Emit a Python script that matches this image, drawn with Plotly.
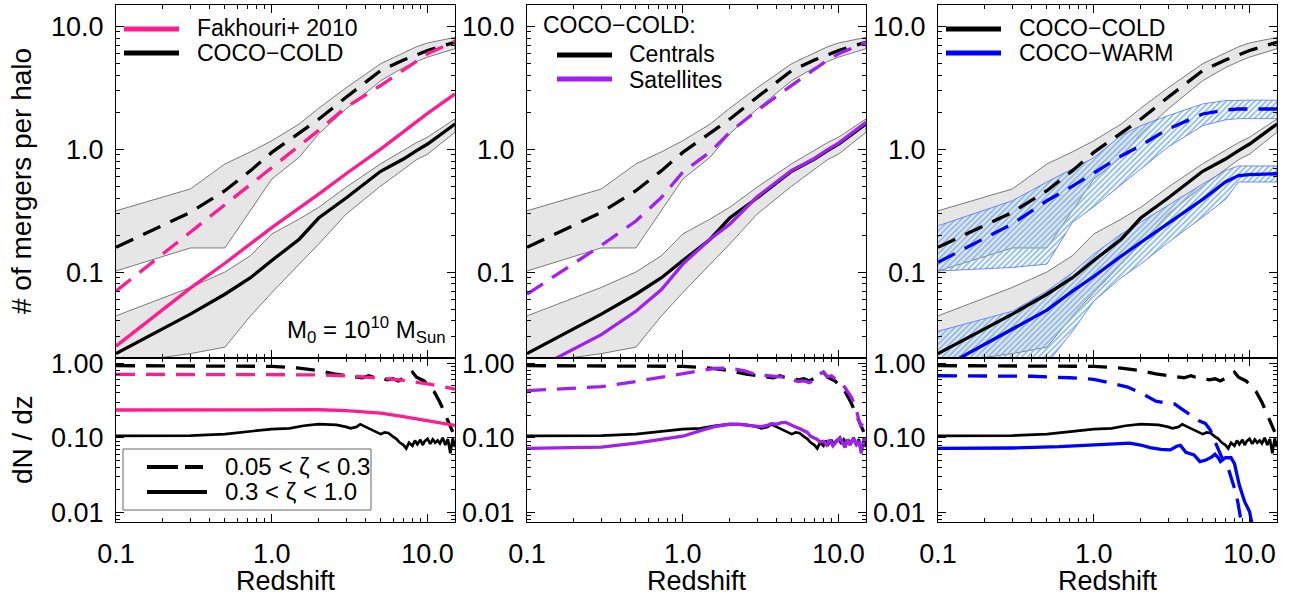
import plotly.graph_objects as go

FONT = "Liberation Sans"
W, H = 1293, 596

PINK = "#ff1c8e"
PURPLE = "#a020f0"
BLUE = "#0000ff"
BAND_GREY = "#e6e6e6"
BAND_EDGE = "#5a5a5a"
HATCH = "#80b6ee"
HATCH_EDGE = "#5070ff"
DASH = "19px,11px"

# ---------------- cumulative number of mergers per halo ----------------
z_cum = [0.1, 0.3, 0.5, 0.73, 1.0, 1.5, 2.0, 3.0, 5.0, 7.0, 8.5, 10.0, 15.0]

# COCO-COLD centrals: minor (0.05<zeta<0.3) and major (0.3<zeta<1.0), with scatter bands
cold_minor    = [0.159, 0.306, 0.459, 0.668, 0.94, 1.35, 1.75, 2.64, 4.35, 5.30, 5.85, 6.34, 7.40]
cold_minor_hi = [0.315, 0.474, 0.757, 0.95, 1.17, 1.60, 2.15, 3.15, 4.95, 6.10, 6.80, 7.30, 8.10]
cold_minor_lo = [0.102, 0.157, 0.157, 0.315, 0.57, 0.86, 1.33, 2.12, 3.60, 4.60, 5.15, 5.60, 6.55]
cold_major    = [0.0217, 0.0455, 0.066, 0.090, 0.124, 0.185, 0.275, 0.40, 0.66, 0.83, 0.97, 1.10, 1.60]
cold_major_hi = [0.044, 0.075, 0.100, 0.136, 0.204, 0.27, 0.336, 0.49, 0.76, 0.98, 1.13, 1.25, 1.76]
cold_major_lo = [0.018, 0.0217, 0.0245, 0.044, 0.068, 0.116, 0.169, 0.296, 0.50, 0.68, 0.82, 0.91, 1.37]

# COCO-COLD satellites
sat_minor = [0.066, 0.165, 0.26, 0.405, 0.65, 0.95, 1.37, 2.06, 3.30, 4.50, 5.30, 5.96, 7.40]
sat_major = [0.015, 0.031, 0.048, 0.072, 0.116, 0.186, 0.245, 0.41, 0.67, 0.84, 0.99, 1.12, 1.65]

# COCO-WARM centrals
warm_minor    = [0.12, 0.246, 0.38, 0.50, 0.64, 0.88, 1.07, 1.46, 1.93, 2.08, 2.12, 2.12, 2.12]
warm_minor_hi = [0.238, 0.38, 0.54, 0.69, 0.85, 1.29, 1.55, 1.87, 2.33, 2.48, 2.50, 2.50, 2.50]
warm_minor_lo = [0.102, 0.109, 0.116, 0.254, 0.34, 0.51, 0.69, 1.04, 1.55, 1.73, 1.77, 1.77, 1.77]
warm_major    = [0.016, 0.034, 0.049, 0.070, 0.092, 0.135, 0.174, 0.246, 0.39, 0.54, 0.61, 0.62, 0.63]
warm_major_hi = [0.033, 0.048, 0.070, 0.099, 0.14, 0.204, 0.254, 0.35, 0.52, 0.67, 0.73, 0.73, 0.73]
warm_major_lo = [0.008, 0.010, 0.018, 0.033, 0.058, 0.09, 0.116, 0.174, 0.28, 0.39, 0.54, 0.54, 0.54]

# Fakhouri et al. (2010) fit
z_fak = [0.1, 0.3, 0.5, 1.0, 2.0, 3.0, 5.0, 10.0, 15.0]
fak_minor = [0.070, 0.21, 0.35, 0.71, 1.42, 2.19, 3.29, 5.96, 7.55]
fak_major = [0.025, 0.074, 0.118, 0.23, 0.43, 0.63, 1.0, 1.95, 2.81]

# ---------------- merger rate dN/dz ----------------
z_rate_fak = [0.1, 0.5, 1.0, 2.0, 3.0, 4.0, 5.0, 7.0, 10.0, 15.0]
rate_fak_minor = [0.71, 0.71, 0.71, 0.70, 0.68, 0.655, 0.63, 0.59, 0.53, 0.45]
rate_fak_major = [0.236, 0.238, 0.240, 0.238, 0.232, 0.224, 0.214, 0.193, 0.168, 0.147]

z_cold_minor_rate = [0.1, 0.5, 1.0, 1.5, 2.0, 2.5, 3.0, 3.5, 3.8, 4.2, 4.5, 5.0, 5.5, 6.0, 6.5,
                     7.0, 7.5, 8.0, 8.5, 9.0, 9.5, 10.0, 11.0, 12.0, 13.0, 14.0, 14.5]
cold_minor_rate = [0.93, 0.93, 0.91, 0.86, 0.80, 0.72, 0.68, 0.66, 0.64, 0.68, 0.65, 0.63, 0.60, 0.62, 0.58,
                   0.63, 0.70, 0.76, 0.65, 0.62, 0.58, 0.52, 0.42, 0.30, 0.20, 0.14, 0.12]

z_cold_major_rate = [0.1, 0.3, 0.5, 0.7, 1.0, 1.3, 1.6, 2.0, 2.3, 2.6, 3.0, 3.2, 3.5, 3.7, 4.0, 4.3,
                     4.6, 5.0, 5.3, 5.6, 6.0, 6.3, 6.6, 7.0, 7.3, 7.6, 8.0, 8.3, 8.6, 9.0, 9.3, 9.6,
                     10.0, 10.4, 10.8, 11.2, 11.6, 12.0, 12.5, 13.0, 13.5, 14.0, 14.5, 15.0]
cold_major_rate = [0.106, 0.107, 0.112, 0.120, 0.131, 0.134, 0.145, 0.153, 0.152, 0.149, 0.140, 0.134,
                   0.140, 0.152, 0.140, 0.130, 0.121, 0.112, 0.118, 0.116, 0.104, 0.097, 0.087, 0.080,
                   0.072, 0.086, 0.078, 0.092, 0.082, 0.094, 0.080, 0.090, 0.097, 0.083, 0.095, 0.086,
                   0.092, 0.084, 0.100, 0.080, 0.096, 0.062, 0.098, 0.075]

z_sat_minor_rate = [0.1, 0.3, 0.5, 1.0, 1.3, 1.6, 2.0, 2.5, 3.0, 3.5, 4.0, 4.5, 5.0, 5.5, 6.0, 6.5,
                    7.0, 7.5, 8.0, 8.5, 9.0, 9.5, 10.0, 10.5, 11.0, 11.5, 12.0, 12.5, 13.0, 13.5,
                    14.0, 14.5, 15.0]
sat_minor_rate = [0.43, 0.485, 0.57, 0.73, 0.80, 0.855, 0.86, 0.79, 0.70, 0.68, 0.66, 0.65, 0.60, 0.57,
                  0.58, 0.55, 0.60, 0.72, 0.76, 0.66, 0.68, 0.62, 0.60, 0.54, 0.47, 0.41, 0.36, 0.30,
                  0.24, 0.17, 0.14, 0.19, 0.20]

z_sat_major_rate = [0.1, 0.3, 0.5, 0.7, 1.0, 1.3, 1.6, 2.0, 2.3, 2.6, 3.0, 3.2, 3.5, 3.7, 4.0, 4.3,
                    4.6, 5.0, 5.3, 5.6, 6.0, 6.3, 6.6, 7.0, 7.3, 7.6, 8.0, 8.4, 8.8, 9.2, 9.7, 10.2,
                    10.6, 11.0, 11.4, 11.8, 12.4, 13.0, 13.5, 14.0, 14.5, 15.0]
sat_major_rate = [0.072, 0.075, 0.085, 0.095, 0.105, 0.125, 0.141, 0.152, 0.152, 0.147, 0.142, 0.141,
                  0.147, 0.155, 0.152, 0.160, 0.160, 0.150, 0.140, 0.133, 0.125, 0.118, 0.105, 0.098,
                  0.095, 0.088, 0.090, 0.080, 0.094, 0.078, 0.088, 0.100, 0.085, 0.074, 0.095, 0.080,
                  0.098, 0.081, 0.090, 0.063, 0.092, 0.095]

z_warm_minor_rate = [0.1, 0.2, 0.4, 0.7, 1.0, 1.3, 1.65, 2.1, 2.5, 3.0, 3.3, 3.6, 4.1, 4.7, 5.2, 5.6,
                     6.0, 6.6, 7.3, 8.0, 8.4, 8.8, 9.0]
warm_minor_rate = [0.68, 0.68, 0.67, 0.64, 0.61, 0.54, 0.48, 0.38, 0.31, 0.29, 0.285, 0.25, 0.21, 0.17,
                   0.156, 0.127, 0.089, 0.056, 0.039, 0.021, 0.0138, 0.0079, 0.006]

z_warm_major_rate = [0.1, 0.3, 0.6, 1.0, 1.3, 1.7, 2.0, 2.3, 2.7, 3.1, 3.4, 3.6, 3.9, 4.4, 4.8, 5.2,
                     5.7, 6.0, 6.3, 6.5, 7.0, 7.6, 8.0, 8.2, 8.6, 9.3, 10.0, 10.3, 10.5]
warm_major_rate = [0.072, 0.073, 0.076, 0.080, 0.083, 0.085, 0.080, 0.074, 0.070, 0.069, 0.077, 0.079,
                   0.064, 0.059, 0.048, 0.050, 0.055, 0.060, 0.054, 0.048, 0.054, 0.054, 0.045, 0.035,
                   0.023, 0.0139, 0.0102, 0.0075, 0.006]

# ---------------- axis ticks ----------------
x_major = [0.1, 1.0, 10.0]
x_labels = ["0.1", "1.0", "10.0"]
top_major = [0.1, 1.0, 10.0]
top_labels = ["0.1", "1.0", "10.0"]
bot_major = [0.01, 0.1, 1.0]
bot_labels = ["0.01", "0.10", "1.00"]
minor_vals = [m * 10.0 ** e for e in (-3, -2, -1, 0, 1) for m in range(2, 10)]

fig = go.Figure()


def px_x(p):
    return p / W


def px_y(p):
    return 1 - p / H


def line(x, y, xa, ya, color, width=3.3, dash=None):
    fig.add_trace(go.Scatter(x=x, y=y, mode="lines", xaxis=xa, yaxis=ya,
                             line=dict(color=color, width=width, dash=dash),
                             hoverinfo="skip", showlegend=False))


def band(x, hi, lo, xa, ya, hatched=False):
    kw = dict(x=list(x) + list(x)[::-1], y=list(hi) + list(lo)[::-1], mode="lines",
              fill="toself", xaxis=xa, yaxis=ya, hoverinfo="skip", showlegend=False)
    if hatched:
        kw.update(fillcolor="rgba(0,0,0,0)", line=dict(color=HATCH_EDGE, width=0.8),
                  fillpattern=dict(shape="/", fgcolor=HATCH, bgcolor="rgba(0,0,0,0)",
                                   size=4, solidity=0.4))
    else:
        kw.update(fillcolor=BAND_GREY, line=dict(color=BAND_EDGE, width=0.8))
    fig.add_trace(go.Scatter(**kw))


# top row: cumulative counts
for xa, ya in (("x", "y"), ("x2", "y2"), ("x3", "y3")):
    band(z_cum, cold_minor_hi, cold_minor_lo, xa, ya)
    band(z_cum, cold_major_hi, cold_major_lo, xa, ya)

band(z_cum, warm_minor_hi, warm_minor_lo, "x3", "y3", hatched=True)
band(z_cum, warm_major_hi, warm_major_lo, "x3", "y3", hatched=True)

for xa, ya in (("x", "y"), ("x2", "y2"), ("x3", "y3")):
    line(z_cum, cold_minor, xa, ya, "black", dash=DASH)
    line(z_cum, cold_major, xa, ya, "black")

line(z_fak, fak_minor, "x", "y", PINK, dash=DASH)
line(z_fak, fak_major, "x", "y", PINK)
line(z_cum, sat_minor, "x2", "y2", PURPLE, dash=DASH)
line(z_cum, sat_major, "x2", "y2", PURPLE)
line(z_cum, warm_minor, "x3", "y3", BLUE, dash=DASH)
line(z_cum, warm_major, "x3", "y3", BLUE)

# bottom row: dN/dz
for xa, ya in (("x4", "y4"), ("x5", "y5"), ("x6", "y6")):
    line(z_cold_minor_rate, cold_minor_rate, xa, ya, "black", dash=DASH)
    line(z_cold_major_rate, cold_major_rate, xa, ya, "black", width=2.7)

line(z_rate_fak, rate_fak_minor, "x4", "y4", PINK, dash=DASH)
line(z_rate_fak, rate_fak_major, "x4", "y4", PINK)
line(z_sat_minor_rate, sat_minor_rate, "x5", "y5", PURPLE, dash=DASH)
line(z_sat_major_rate, sat_major_rate, "x5", "y5", PURPLE)
line(z_warm_minor_rate, warm_minor_rate, "x6", "y6", BLUE, dash=DASH)
line(z_warm_major_rate, warm_major_rate, "x6", "y6", BLUE)

# ---------------- axes ----------------
cols = [(116, 455), (527, 866), (938, 1277)]
top_dom = [px_y(358), px_y(5)]
bot_dom = [px_y(522), px_y(358)]
X_RANGE = [-1.0, 1.1761]
TOP_RANGE = [-1.699, 1.172]
BOT_RANGE = [-2.13, 0.071]


def axis(domain, rng, vals, texts, labels_on, anchor, standoff):
    return dict(type="log", domain=domain, range=rng, anchor=anchor, automargin=False,
                tickmode="array", tickvals=vals, ticktext=texts, showticklabels=labels_on,
                ticks="inside", ticklen=8, tickwidth=1, tickcolor="black",
                minor=dict(tickmode="array", tickvals=minor_vals, ticks="inside", ticklen=4,
                           tickwidth=1, tickcolor="black", showgrid=False),
                showline=True, linecolor="black", linewidth=1.3, mirror="allticks",
                showgrid=False, zeroline=False, ticklabelstandoff=standoff,
                tickfont=dict(family=FONT, size=27, color="black"))


layout_axes = {}
for i, (l, r) in enumerate(cols):
    dom = [px_x(l), px_x(r)]
    ti, bi = i + 1, i + 4
    tk = "" if ti == 1 else str(ti)
    bk = str(bi)
    layout_axes["xaxis" + tk] = axis(dom, X_RANGE, x_major, x_labels, False, "y" + tk, 0)
    layout_axes["yaxis" + tk] = axis(top_dom, TOP_RANGE, top_major, top_labels, True, "x" + tk, 6)
    layout_axes["xaxis" + bk] = axis(dom, X_RANGE, x_major, x_labels, True, "y" + bk, 7)
    layout_axes["yaxis" + bk] = axis(bot_dom, BOT_RANGE, bot_major, bot_labels, True, "x" + bk, 6)

fig.update_layout(template="none", **layout_axes)

# ---------------- legends and labels ----------------
shapes = []
annotations = []


def key_line(x0, x1, y, color, dash=None, width=5):
    shapes.append(dict(type="line", xref="paper", yref="paper", x0=px_x(x0), x1=px_x(x1),
                       y0=px_y(y), y1=px_y(y), line=dict(color=color, width=width, dash=dash)))


def text(x, y, s, size=23, xanchor="left", angle=0):
    annotations.append(dict(x=px_x(x), y=px_y(y), xref="paper", yref="paper", text=s,
                            showarrow=False, xanchor=xanchor, yanchor="middle", textangle=angle,
                            font=dict(family=FONT, size=size, color="black")))


key_line(124, 179, 29, PINK)
text(195, 27.5, "Fakhouri+ 2010")
key_line(124, 179, 53, "black")
text(195, 53, "COCO\u2212COLD")

text(541, 25, "COCO\u2212COLD:")
key_line(557, 612, 55, "black")
text(627, 54, "Centrals")
key_line(557, 612, 79, PURPLE)
text(627, 79.5, "Satellites")

key_line(946, 1001, 29, "black")
text(1017, 27.5, "COCO\u2212COLD")
key_line(946, 1001, 53, BLUE)
text(1017, 53, "COCO\u2212WARM")

shapes.append(dict(type="rect", xref="paper", yref="paper", x0=px_x(123), x1=px_x(371),
                   y0=px_y(510), y1=px_y(449), fillcolor="white",
                   line=dict(color="#666666", width=1), layer="above"))
key_line(147, 203, 467, "black", dash="31px,7px", width=4)
text(223, 466, "0.05 < \u03b6 < 0.3", size=24)
key_line(147, 207, 492, "black", width=4)
text(223, 491, "0.3 < \u03b6 < 1.0", size=24)

text(448, 330, "M<sub>0</sub> = 10<sup>10</sup> M<sub>Sun</sub>", size=24, xanchor="right")

text(22, 181, "# of mergers per halo", size=28, xanchor="center", angle=-90)
text(22, 440, "dN / dz", size=28, xanchor="center", angle=-90)
for l, r in cols:
    text((l + r) / 2, 581, "Redshift", size=27, xanchor="center")

fig.update_layout(shapes=shapes, annotations=annotations, width=W, height=H,
                  margin=dict(l=0, r=0, t=0, b=0, autoexpand=False), paper_bgcolor="white",
                  plot_bgcolor="rgba(0,0,0,0)", showlegend=False,
                  font=dict(family=FONT, color="black"))

fig.write_html("out.html")
